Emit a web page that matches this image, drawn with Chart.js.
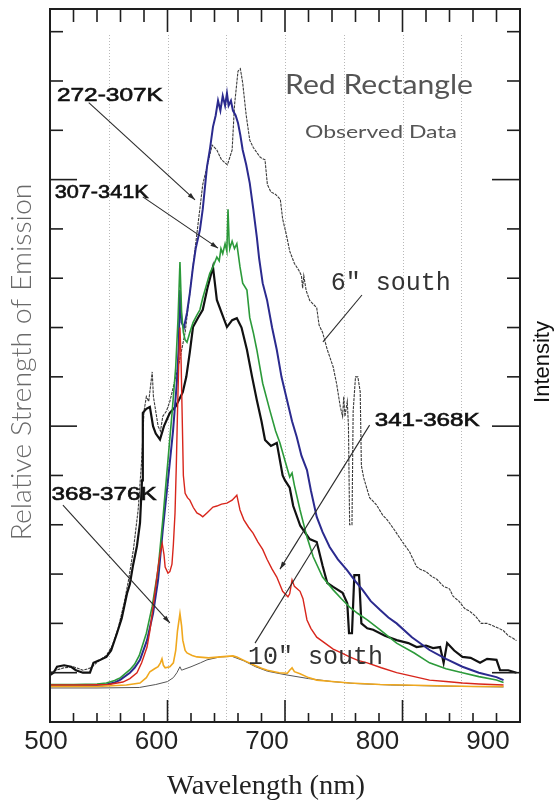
<!DOCTYPE html>
<html>
<head>
<meta charset="utf-8">
<script src="https://cdn.jsdelivr.net/npm/chart.js@4/dist/chart.umd.min.js"></script>
<style>
  html, body { margin: 0; padding: 0; background: #fff; }
  #wrap { width: 554px; height: 800px; position: relative; }
</style>
</head>
<body>
<div id="wrap"><canvas id="c"></canvas></div>
<script>
// ── DATA (wavelength nm, relative strength) ────────────────────────────────
const south6 = [[500,1.0],[505,1.05],[512,1.1],[520,1.12],[528,1.05],[535,1.1],[542,1.25],[548,1.35],[553,1.55],[558,1.9],[563,2.4],[567,2.9],[571,3.5],[575,4.3],[578,5.3],[580,6.3],[582,6.6],[584,6.5],[586,6.9],[587,7.1],[588,6.6],[590,6.3],[592,6.0],[594,5.9],[596,6.2],[599,6.3],[602,6.5],[606,6.9],[610,7.3],[615,7.9],[620,8.9],[625,9.9],[630,10.9],[634,11.3],[638,11.7],[642,11.6],[646,11.4],[651,11.3],[655,11.6],[657,12.5],[660,13.2],[662,13.25],[664,12.96],[667,12.3],[670,11.8],[673,11.65],[679,11.45],[683,11.4],[685,10.9],[688,10.75],[692,10.7],[696,10.6],[698,10.2],[701,9.9],[704,9.55],[708,9.3],[712,9.15],[714,9.05],[715,8.8],[716,9.05],[718,8.75],[721,8.55],[727,8.4],[729,8.05],[732,7.9],[736,7.55],[741,7.2],[744,6.85],[747,6.4],[749,6.2],[750,6.6],[751,6.2],[753,6.5],[754,6.0],[755,4.0],[757,4.0],[758,6.3],[760,7.0],[762,7.0],[764,6.7],[765,5.2],[767,4.95],[772,4.55],[778,4.4],[783,4.2],[787,4.1],[793,3.9],[800,3.65],[806,3.45],[812,3.15],[815,3.1],[820,3.05],[825,2.95],[829,2.9],[835,2.75],[840,2.7],[843,2.55],[848,2.45],[853,2.3],[857,2.25],[862,2.15],[867,2.0],[872,2.0],[877,1.95],[882,1.9],[886,1.85],[890,1.75],[894,1.7],[897,1.65]];

const south10 = [[500,0.95],[503,1.0],[506,1.12],[512,1.15],[518,1.12],[522,1.05],[528,1.0],[534,1.0],[537,1.2],[542,1.25],[548,1.32],[552,1.45],[557,1.8],[561,2.1],[565.5,2.6],[568,2.8],[570.6,3.17],[574,3.57],[576.6,4.04],[578.3,4.9],[579,6.27],[582,6.35],[585,6.39],[587.7,6.0],[590,5.85],[593.6,5.73],[597,6.0],[602,6.27],[607,6.4],[613,6.69],[616,7.0],[619,7.5],[621.7,8.01],[626,8.2],[630,8.36],[634,8.8],[638.7,9.23],[642,8.56],[646,8.3],[650.6,8.01],[655,8.15],[659,8.19],[663,8.0],[667.6,7.55],[672,7.0],[676,6.53],[680,6.1],[683,5.72],[688,5.6],[693,5.66],[698,5.0],[700,4.9],[704,4.75],[707,4.38],[713,3.98],[721,3.71],[727,3.65],[732,3.17],[736,2.82],[741,2.74],[749,2.62],[753,2.41],[754.5,1.8],[757,1.8],[759,2.98],[763,2.98],[765,2.0],[770,1.9],[775,1.87],[785,1.75],[795,1.66],[805,1.6],[812,1.52],[820,1.55],[826,1.5],[832,1.52],[835,1.2],[838,1.6],[844,1.45],[851,1.32],[858,1.3],[866,1.2],[872,1.28],[880,1.26],[883,1.05],[890,1.05],[897,1.0]];

const k272 = [[500,0.75],[520,0.75],[540,0.75],[548,0.76],[555,0.8],[560,0.86],[568,1.0],[572,1.1],[576.6,1.26],[582.6,1.66],[587.7,2.2],[592,2.88],[596,3.9],[600.4,4.9],[604.7,5.9],[608,6.9],[609.5,7.6],[610.6,8.76],[612,8.1],[614,8.0],[616.6,8.3],[619,8.7],[621.7,9.23],[624,9.6],[627.6,9.98],[630,10.4],[633.6,11.26],[636,11.6],[638.7,12.07],[641,12.3],[643,12.6],[645,12.4],[647,12.7],[649,12.5],[650.6,12.75],[652,12.5],[654,12.6],[655.7,12.4],[658,12.3],[660,12.15],[662,11.9],[664,11.6],[667,11.3],[670,10.93],[673,10.4],[676,9.84],[678,9.4],[681,8.9],[684.7,8.56],[689,8.0],[693,7.55],[697,7.0],[701.7,6.53],[706,6.1],[710,5.78],[714,5.4],[718.7,5.11],[722,4.7],[727,4.16],[732,3.85],[738,3.55],[745,3.3],[752.8,3.08],[760,2.85],[766,2.68],[773,2.45],[781,2.27],[788,2.12],[795,2.0],[808,1.72],[823,1.46],[837,1.28],[851,1.12],[865,1.0],[880,0.91],[886,0.85]];

const k307 = [[500,0.76],[520,0.76],[540,0.77],[548,0.79],[555,0.84],[560,0.9],[568,1.06],[572,1.17],[576,1.35],[582,1.8],[587,2.35],[592,3.1],[596,4.1],[600,5.2],[604,6.3],[607,7.2],[609,8.2],[610.6,9.33],[612,8.3],[613.5,7.9],[615,7.75],[616.6,7.7],[619,7.9],[621.7,8.1],[625,8.25],[627.6,8.36],[630,8.6],[633.6,8.9],[636,9.1],[638.7,9.23],[642,9.43],[644,9.35],[645.5,9.6],[647,9.5],[649,9.7],[650.5,9.55],[651.5,10.4],[652.5,9.7],[653,9.6],[655,9.75],[657,9.6],[659,9.7],[661.7,9.23],[664,8.9],[667.6,8.76],[670,8.2],[673,7.9],[676,7.55],[681,6.87],[687,6.33],[692,5.9],[695.7,5.66],[700,5.3],[704,4.97],[706,5.05],[708,4.8],[712.8,4.3],[718.7,3.75],[724,3.35],[732,2.94],[741,2.68],[748,2.5],[755,2.33],[762,2.2],[770,2.07],[781,1.87],[795,1.6],[810,1.4],[823,1.2],[837,1.08],[851,1.0],[865,0.92],[880,0.85],[886,0.8]];

const k341 = [[500,0.75],[530,0.75],[550,0.76],[562,0.81],[568,0.88],[574,1.0],[578,1.2],[582.6,1.52],[585,1.85],[587.7,2.33],[590,2.75],[592,3.14],[594,3.45],[595.5,3.62],[597,3.4],[598,3.14],[600.4,3.02],[602,3.05],[603.8,3.2],[605,3.6],[606.4,4.24],[607.5,5.2],[608.5,6.27],[609.5,7.2],[610.6,8.0],[611.5,7.4],[612.5,6.2],[613.5,5.0],[615,4.64],[617,4.55],[619,4.5],[622,4.35],[625,4.24],[628,4.2],[630,4.16],[634,4.25],[638.7,4.36],[642,4.38],[646,4.42],[650.6,4.44],[655,4.5],[659,4.6],[661.7,4.3],[665,4.1],[669,3.95],[672.8,3.83],[677,3.65],[681,3.5],[684.7,3.3],[689,3.1],[693,2.94],[698,2.65],[702.5,2.54],[704,2.6],[706,2.88],[708,2.75],[712.8,2.65],[715.3,2.5],[718.7,2.07],[722,1.9],[727,1.72],[734,1.6],[741,1.48],[748,1.4],[755,1.32],[762,1.25],[770,1.2],[782,1.1],[795,1.0],[810,0.92],[823,0.85],[837,0.82],[851,0.79],[865,0.77],[886,0.75]];

const k368 = [[500,0.72],[540,0.72],[565,0.75],[576.6,0.79],[582,0.9],[585,1.02],[589,1.08],[592,1.12],[594,1.2],[595.3,1.28],[596.5,1.15],[598,1.1],[602,1.12],[605,1.2],[607,1.45],[608.5,1.85],[610.6,2.2],[612,1.95],[613,1.66],[615,1.45],[616.6,1.4],[621,1.35],[625,1.32],[635,1.3],[645,1.32],[655.7,1.34],[659,1.32],[665,1.25],[672,1.17],[680,1.09],[685,1.05],[695,1.0],[702,0.99],[704,1.05],[706,1.1],[708,1.02],[712.8,0.98],[720,0.9],[727,0.85],[740,0.82],[755,0.79],[781,0.76],[820,0.74],[860,0.72],[886,0.72]];

const baseCurve = [[500,0.69],[540,0.69],[576,0.7],[590,0.76],[600,0.82],[605,0.9],[608,1.0],[610.6,1.12],[612,1.05],[613,1.06],[620,1.12],[628,1.2],[633.6,1.26],[644.7,1.32],[655,1.33],[665,1.24],[675,1.12],[685,1.03],[700,0.96],[720,0.88],[740,0.82],[760,0.78],[790,0.75],[830,0.73],[886,0.71]];

const xTicks = [500, 600, 700, 800, 900];

// ── ANNOTATIONS (anchored in data units) ───────────────────────────────────
const labels = [
  { t: "272-307K", x: 551, y: 12.7,  w: 106, from: [533, 12.56], to: [623.4, 10.59], head: true },
  { t: "307-341K", x: 544, y: 10.73, w: 94,  from: [579, 10.65], to: [643, 9.61],   head: true },
  { t: "341-368K", x: 821, y: 6.11,  w: 105, from: [772, 6.02],  to: [695.7, 3.10], head: true },
  { t: "368-376K", x: 546, y: 4.6,   w: 105, from: [511, 4.4],   to: [602, 2.01],   head: true },
];
const souths = [
  { t: "6\u2033 south",  x: 790, y: 8.9,  from: [765.5, 8.66], to: [732.3, 7.71] },
  { t: "10\u2033 south", x: 726, y: 1.32, from: [674.5, 1.6],  to: [727.2, 3.63] },
];

function pts(a) { return a.map(([x, y]) => ({ x, y })); }

function fitText(ctx, txt, x, y, font, color, w, rot, bold) {
  ctx.save();
  ctx.font = font;
  ctx.fillStyle = color;
  ctx.translate(x, y);
  if (rot) ctx.rotate(rot);
  const m = ctx.measureText(txt).width;
  if (w) ctx.scale(w / m, 1);
  ctx.textAlign = "center";
  ctx.textBaseline = "middle";
  ctx.fillText(txt, 0, 0);
  if (bold) { ctx.strokeStyle = color; ctx.lineWidth = bold; ctx.strokeText(txt, 0, 0); }
  ctx.restore();
}

function arrow(ctx, x1, y1, x2, y2, head) {
  ctx.save();
  ctx.strokeStyle = "#2a2a2a";
  ctx.fillStyle = "#2a2a2a";
  ctx.lineWidth = 1.1;
  ctx.beginPath(); ctx.moveTo(x1, y1); ctx.lineTo(x2, y2); ctx.stroke();
  if (head) {
    const a = Math.atan2(y2 - y1, x2 - x1), L = 8, s = 0.3;
    ctx.beginPath();
    ctx.moveTo(x2, y2);
    ctx.lineTo(x2 - L * Math.cos(a - s), y2 - L * Math.sin(a - s));
    ctx.lineTo(x2 - L * Math.cos(a + s), y2 - L * Math.sin(a + s));
    ctx.closePath(); ctx.fill();
  }
  ctx.restore();
}

const frame = {
  id: "frame",
  beforeDatasetsDraw(chart) {
    const { ctx, chartArea: ca, scales: { x } } = chart;
    ctx.save();
    ctx.strokeStyle = "#b8b8b8";
    ctx.lineWidth = 1;
    ctx.setLineDash([1, 2]);
    for (let v = 550; v < 900; v += 50) {
      const px = Math.round(x.getPixelForValue(v)) + 0.5;
      ctx.beginPath(); ctx.moveTo(px, ca.top + 26); ctx.lineTo(px, ca.bottom); ctx.stroke();
    }
    ctx.restore();
  },
  afterDatasetsDraw(chart) {
    const { ctx, chartArea: ca, scales: { x, y } } = chart;
    ctx.save();
    ctx.strokeStyle = "#1e1e1e";
    ctx.lineWidth = 2;
    ctx.strokeRect(ca.left, ca.top, ca.right - ca.left, ca.bottom - ca.top);
    // x ticks (inward)
    ctx.lineWidth = 1.6;
    for (let v = 500; v <= 900; v += 20) {
      const px = x.getPixelForValue(v), major = v % 100 === 0;
      ctx.beginPath(); ctx.moveTo(px, ca.bottom); ctx.lineTo(px, ca.bottom - (major ? 22 : 9)); ctx.stroke();
      ctx.beginPath(); ctx.moveTo(px, ca.top); ctx.lineTo(px, ca.top + (major ? 23 : 13)); ctx.stroke();
    }
    // y ticks (inward)
    for (let v = 1; v <= 14; v++) {
      const py = y.getPixelForValue(v), major = v % 5 === 1;
      ctx.beginPath(); ctx.moveTo(ca.left, py); ctx.lineTo(ca.left + (major ? 27 : 13), py); ctx.stroke();
      ctx.beginPath(); ctx.moveTo(ca.right, py); ctx.lineTo(ca.right - (major ? 28 : 13), py); ctx.stroke();
    }
    ctx.restore();

    // x tick labels
    const x0 = x.getPixelForValue(500);
    xTicks.forEach(v => {
      fitText(ctx, String(v), x0 - 4 + (v - 500) * 1.105, ca.bottom + 20, "26px 'Liberation Sans'", "#222", 0, 0);
    });
    fitText(ctx, "Wavelength (nm)", 266, ca.bottom + 65, "28px 'Liberation Serif'", "#222", 198, 0);
    fitText(ctx, "Relative Strength of Emission", ca.left - 28, 362, "300 27px Lato", "#6a6a6a", 357, -Math.PI / 2);
    fitText(ctx, "Intensity", ca.right + 23, 362, "22px 'Liberation Sans'", "#111", 0, -Math.PI / 2);

    // titles
    fitText(ctx, "Red Rectangle", x.getPixelForValue(780), y.getPixelForValue(12.9), "26px Lato", "#555", 188, 0);
    fitText(ctx, "Observed Data", x.getPixelForValue(781.7), y.getPixelForValue(11.97), "18px Lato", "#555", 152, 0);

    labels.forEach(l => {
      arrow(ctx, x.getPixelForValue(l.from[0]), y.getPixelForValue(l.from[1]),
                 x.getPixelForValue(l.to[0]), y.getPixelForValue(l.to[1]), l.head);
    });
    labels.forEach(l => {
      fitText(ctx, l.t, x.getPixelForValue(l.x), y.getPixelForValue(l.y), "18px 'Liberation Sans'", "#111", l.w, 0, 0.6);
    });
    souths.forEach(s => {
      arrow(ctx, x.getPixelForValue(s.from[0]), y.getPixelForValue(s.from[1]),
                 x.getPixelForValue(s.to[0]), y.getPixelForValue(s.to[1]), false);
      fitText(ctx, s.t, x.getPixelForValue(s.x), y.getPixelForValue(s.y), "25px 'Liberation Mono'", "#333", 0, 0);
    });
  },
};

new Chart(document.getElementById("c"), {
  type: "line",
  data: {
    datasets: [
      { data: pts(k368),      borderColor: "#f0a81e", borderWidth: 1.6 },
      { data: pts(baseCurve), borderColor: "#555",    borderWidth: 1 },
      { data: pts(k341),      borderColor: "#d8261c", borderWidth: 1.4 },
      { data: pts(k307),      borderColor: "#2c9a3a", borderWidth: 1.6 },
      { data: pts(k272),      borderColor: "#2b2a8e", borderWidth: 2 },
      { data: pts(south10),   borderColor: "#111",    borderWidth: 2.2 },
      { data: pts(south6),    borderColor: "#3a3a3a", borderWidth: 1.1, borderDash: [3, 1] },
    ].map(d => ({ ...d, pointRadius: 0, tension: 0, fill: false })),
  },
  options: {
    responsive: true, maintainAspectRatio: false, animation: false,
    layout: { padding: { left: 50, right: 34, top: 9, bottom: 78 } },
    plugins: { legend: { display: false }, tooltip: { enabled: false } },
    scales: {
      x: { type: "linear", min: 500, max: 900, display: false },
      y: { min: 0, max: 14.46, display: false },
    },
  },
  plugins: [frame],
});
</script>
</body>
</html>
